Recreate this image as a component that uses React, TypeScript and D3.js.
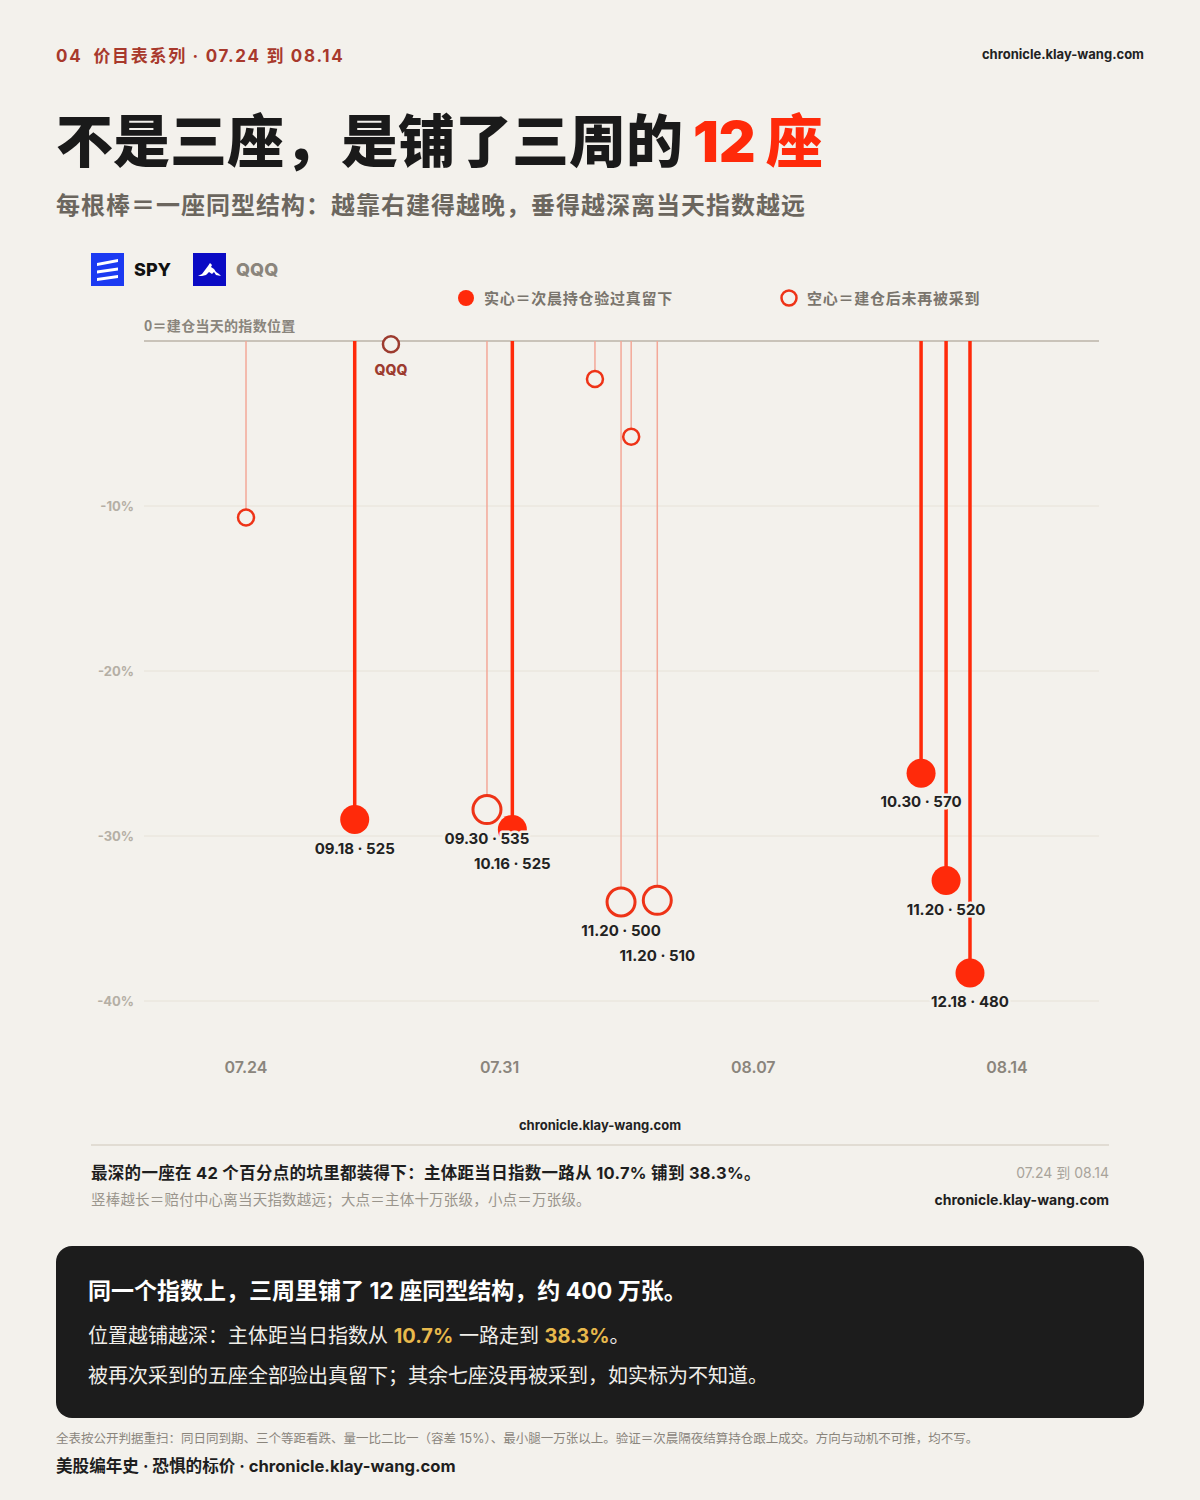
import React from "react";
import * as d3 from "d3";

// ---------- data ----------
const tickers = ["SPY", "SPY", "QQQ", "SPY", "SPY", "SPY", "SPY", "SPY", "SPY", "SPY", "SPY", "SPY"];
// days after 07.24 at which each structure was built
const buildDay = [0, 3, 4, 6.65, 7.35, 9.63, 10.35, 10.63, 11.35, 18.63, 19.32, 19.98];
// distance of the payout center from that day's index (%)
const depth = [-10.7, -29.0, -0.2, -28.4, -29.6, -2.3, -34.0, -5.8, -33.9, -26.2, -32.7, -38.3];
// big = main body 100k-lot level, small = 10k-lot level
const isBig = [false, true, false, true, true, false, true, false, true, true, true, true];
// verified next morning (filled) or never sampled again (open)
const verified = [false, true, false, false, true, false, false, false, false, true, true, true];
const labels = ["", "09.18 · 525", "QQQ", "09.30 · 535", "10.16 · 525", "", "11.20 · 500", "", "11.20 · 510", "10.30 · 570", "11.20 · 520", "12.18 · 480"];

const yTicks = [-10, -20, -30, -40];
const xTickDays = [0, 7, 14, 21];
const xTickLabels = ["07.24", "07.31", "08.07", "08.14"];

// ---------- style ----------
const BG = "#f3f1ec";
const RED = "#ff2a0a";
const RED_OPEN = "#ee3317";
const THIN = "#f3a898";
const QQQ_COL = "#9c3b2f";
const FONT = "Inter, 'Noto Sans CJK SC', sans-serif";
const CJK = "'Noto Sans CJK SC', sans-serif";

export default function App() {
  const x = d3.scaleLinear().domain([-2.815, 23.54]).range([144, 1099]);
  const y = d3.scaleLinear().domain([0, -40]).range([341, 1001]);

  const pts = buildDay.map((d, i) => ({
    i,
    cx: x(d),
    cy: y(depth[i]),
    big: isBig[i],
    filled: verified[i],
    qqq: tickers[i] === "QQQ",
    label: labels[i],
  }));

  // label placement with simple collision avoidance
  const placed: { x: number; y: number; w: number }[] = [];
  const labelPos = pts.map((p) => {
    if (!p.label || p.qqq) return null;
    const w = 88;
    let ly = p.cy + 29;
    let moved = true;
    while (moved) {
      moved = false;
      for (const q of placed) {
        if (Math.abs(q.x - p.cx) < w && Math.abs(q.y - ly) < 23) {
          ly = q.y + 25;
          moved = true;
        }
      }
    }
    placed.push({ x: p.cx, y: ly, w });
    return { x: p.cx, y: ly };
  });

  return (
    <div style={{ position: "absolute", left: 0, top: 0 }}>
      <svg width={1200} height={1500} style={{ display: "block", fontFamily: FONT }}>
        <rect width={1200} height={1500} fill={BG} />

        {/* header */}
        <text x={56} y={62} fill="#a8392c" fontSize={17} fontWeight={700} letterSpacing={1.7}>
          04<tspan dx={11}>价目表系列 · 07.24 到 08.14</tspan>
        </text>
        <text x={1144} y={59} textAnchor="end" fill="#222" fontSize={13} fontWeight={700}>
          chronicle.klay-wang.com
        </text>

        <text x={56} y={162} fill="#1a1a1a" fontSize={57} fontWeight={900} fontFamily={CJK}>
          不是三座，是铺了三周的<tspan fill={RED} dx={10} fontFamily={FONT}>12</tspan>
          <tspan fill={RED} dx={10}>座</tspan>
        </text>
        <text x={56} y={214} fill="#6b665e" fontSize={24} fontWeight={700} fontFamily={CJK} letterSpacing={1}>
          每根棒＝一座同型结构：越靠右建得越晚，垂得越深离当天指数越远
        </text>

        {/* ticker logos */}
        <g transform="translate(91,253)">
          <rect width={33} height={33} fill="#1b3af2" />
          <path d="M6 10 L27 6 L27 9 L6 13 Z" fill="#fff" />
          <path d="M6 17.5 L27 14.5 L27 17.5 L6 20.5 Z" fill="#fff" />
          <path d="M6 25 L27 22 L27 25 L6 28 Z" fill="#fff" />
        </g>
        <text x={134} y={276} fill="#111" fontSize={18} fontWeight={800}>SPY</text>
        <g transform="translate(193,253)">
          <rect width={33} height={33} fill="#0a0ac4" />
          <path d="M5 23 L9 21 L12 17 L15 13 L17 10 L19 12 L18 14 L21 16 L23 19 L26 21 L28 23 L23 22 L21 19 L19 21 L16 19 L13 22 L9 23 Z" fill="#fff" />
        </g>
        <text x={236} y={276} fill="#8a857c" fontSize={18} fontWeight={800}>QQQ</text>

        {/* legend */}
        <circle cx={466} cy={298} r={8} fill={RED} />
        <text x={484} y={304} fill="#7a756d" fontSize={15} fontWeight={700} fontFamily={CJK} letterSpacing={0.75}>
          实心＝次晨持仓验过真留下
        </text>
        <circle cx={789} cy={298} r={7.5} fill="none" stroke={RED_OPEN} strokeWidth={2.5} />
        <text x={807} y={304} fill="#7a756d" fontSize={15} fontWeight={700} fontFamily={CJK} letterSpacing={0.75}>
          空心＝建仓后未再被采到
        </text>

        {/* axes */}
        <text x={144} y={331} fill="#8a857c" fontSize={14} fontWeight={700} fontFamily={CJK} letterSpacing={0.3}>
          0＝建仓当天的指数位置
        </text>
        {yTicks.map((t) => (
          <g key={t}>
            <line x1={144} x2={1099} y1={y(t)} y2={y(t)} stroke="#e7e2d8" strokeWidth={1} />
            <text x={134} y={y(t) + 5} textAnchor="end" fill="#b5afa5" fontSize={13} fontWeight={700}>
              {t}%
            </text>
          </g>
        ))}
        <line x1={144} x2={1099} y1={y(0)} y2={y(0)} stroke="#c9c3b9" strokeWidth={2} />
        {xTickDays.map((d, k) => (
          <text key={d} x={x(d)} y={1073} textAnchor="middle" fill="#8a857c" fontSize={16} fontWeight={600}>
            {xTickLabels[k]}
          </text>
        ))}

        {/* stems */}
        {pts.map((p) => (
          <line
            key={"l" + p.i}
            x1={p.cx}
            x2={p.cx}
            y1={y(0)}
            y2={p.cy}
            stroke={p.qqq ? QQQ_COL : p.filled ? RED : THIN}
            strokeWidth={p.filled ? 3.5 : 1.5}
          />
        ))}
        {/* dots */}
        {pts.map((p) => {
          const col = p.qqq ? QQQ_COL : p.filled ? RED : RED_OPEN;
          const r = p.big ? (p.filled ? 14.5 : 14) : 8;
          return p.filled ? (
            <circle key={"c" + p.i} cx={p.cx} cy={p.cy} r={r} fill={col} />
          ) : (
            <circle key={"c" + p.i} cx={p.cx} cy={p.cy} r={r} fill={BG} stroke={col} strokeWidth={p.big ? 3 : 2.5} />
          );
        })}
        {/* labels */}
        {pts.map((p, k) => {
          if (p.qqq) {
            return (
              <text key={"t" + p.i} x={p.cx} y={p.cy + 31} textAnchor="middle" fill={QQQ_COL} fontSize={14} fontWeight={800}>
                {p.label}
              </text>
            );
          }
          const lp = labelPos[k];
          if (!lp) return null;
          return (
            <text
              key={"t" + p.i}
              x={lp.x}
              y={lp.y + 5}
              textAnchor="middle"
              fill="#222"
              fontSize={15}
              fontWeight={700}
              stroke={BG}
              strokeWidth={5}
              strokeLinejoin="round"
              paintOrder="stroke"
            >
              {p.label}
            </text>
          );
        })}

        <text x={600} y={1130} textAnchor="middle" fill="#222" fontSize={13} fontWeight={700}>
          chronicle.klay-wang.com
        </text>
        <line x1={91} x2={1109} y1={1145} y2={1145} stroke="#dbd5cb" strokeWidth={1.5} />

        <text x={91} y={1179} fill="#1e1e1e" fontSize={16.5} fontWeight={700} letterSpacing={0.3}>
          最深的一座在 42 个百分点的坑里都装得下：主体距当日指数一路从 10.7% 铺到 38.3%。
        </text>
        <text x={91} y={1205} fill="#9a958c" fontSize={14.5} letterSpacing={0.2}>
          竖棒越长＝赔付中心离当天指数越远；大点＝主体十万张级，小点＝万张级。
        </text>
        <text x={1109} y={1178} textAnchor="end" fill="#a8a39a" fontSize={14}>
          07.24 到 08.14
        </text>
        <text x={1109} y={1205} textAnchor="end" fill="#1e1e1e" fontSize={14} fontWeight={700}>
          chronicle.klay-wang.com
        </text>

        {/* dark summary box */}
        <rect x={56} y={1246} width={1088} height={172} rx={16} fill="#1c1c1c" />
        <text x={88} y={1299} fill="#ffffff" fontSize={23} fontWeight={700}>
          同一个指数上，三周里铺了 12 座同型结构，约 400 万张。
        </text>
        <text x={88} y={1343} fill="#f0eee9" fontSize={20}>
          位置越铺越深：主体距当日指数从 <tspan fill="#e8b94c" fontWeight={700}>10.7%</tspan> 一路走到{" "}
          <tspan fill="#e8b94c" fontWeight={700}>38.3%</tspan>。
        </text>
        <text x={88} y={1383} fill="#f0eee9" fontSize={20}>
          被再次采到的五座全部验出真留下；其余七座没再被采到，如实标为不知道。
        </text>

        <text x={56} y={1443} fill="#8a857c" fontSize={12.5}>
          全表按公开判据重扫：同日同到期、三个等距看跌、量一比二比一（容差 15%）、最小腿一万张以上。验证＝次晨隔夜结算持仓跟上成交。方向与动机不可推，均不写。
        </text>
        <text x={56} y={1472} fill="#1e1e1e" fontSize={16.6} fontWeight={700}>
          美股编年史 · 恐惧的标价 · chronicle.klay-wang.com
        </text>
      </svg>
    </div>
  );
}
